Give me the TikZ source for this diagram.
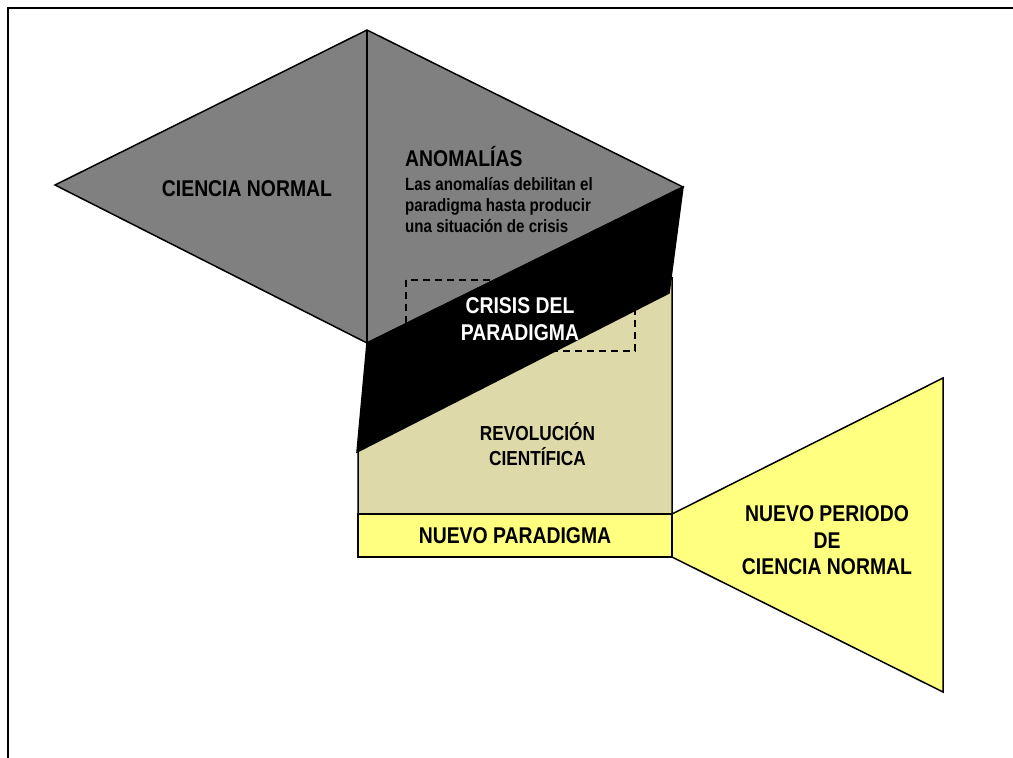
\documentclass[tikz,border=0pt]{standalone}
\usepackage{fontspec}
\setmainfont{Liberation Sans}[FakeStretch=0.85]
\definecolor{gris}{RGB}{128,128,128}
\definecolor{caqui}{RGB}{221,217,168}
\definecolor{amarillo}{RGB}{255,255,128}

\begin{document}
\begin{tikzpicture}[x=1pt,y=-1pt
    , forma/.style = {draw=black,line width=1.5pt}
    , rotulo/.style = {font=\fontsize{22.8}{26.5}\selectfont\bfseries,align=center,inner sep=0pt}
    , nota/.style = {font=\fontsize{17.8}{20.7}\selectfont\bfseries,align=left,inner sep=0pt}
]
\useasboundingbox (0,0) rectangle (1013,758);
\draw[line width=2.2pt] (8,758) -- (8,8) -- (1013,8);
% zonas de fondo
\draw[forma,fill=caqui] (358,445) -- (672,278) -- (672,514) -- (358,514) -- cycle;
\draw[forma,fill=gris] (55,185) -- (367,30) -- (683,187) -- (367,343) -- cycle;
\draw[forma] (367,30) -- (367,343);
\draw[forma,fill=black] (367,343) -- (683,187) -- (669,293) -- (357,452) -- cycle;
\draw[forma,fill=amarillo] (672,514) -- (943,378) -- (943,692) -- (672,557) -- cycle;
\draw[line width=1.3pt,dash pattern=on 7pt off 5pt] (406,280) rectangle (635,351);
% textos
\node[rotulo] (ciencia) at (247,189) {CIENCIA NORMAL};
\node[rotulo,anchor=base west] (anomalia) at (405,166) {ANOMALÍAS};
\node[nota,anchor=north west] (anomtexto) at (405,177.5) {Las anomalías debilitan el\\paradigma hasta producir\\una situación de crisis};
\node[rotulo,text=white] (crisis) at (520,319) {CRISIS DEL\\PARADIGMA};
\node[rotulo,font=\fontsize{20.3}{24.7}\selectfont\bfseries] (revolucion) at (537.5,444) {REVOLUCIÓN\\CIENTÍFICA};
\node[rotulo,forma,fill=amarillo,minimum width=314pt,minimum height=43pt] (nuevopar) at (515,535.5) {NUEVO PARADIGMA};
\node[rotulo] (nuevoper) at (827,540.5) {NUEVO PERIODO\\DE\\CIENCIA NORMAL};
\end{tikzpicture}
\end{document}
